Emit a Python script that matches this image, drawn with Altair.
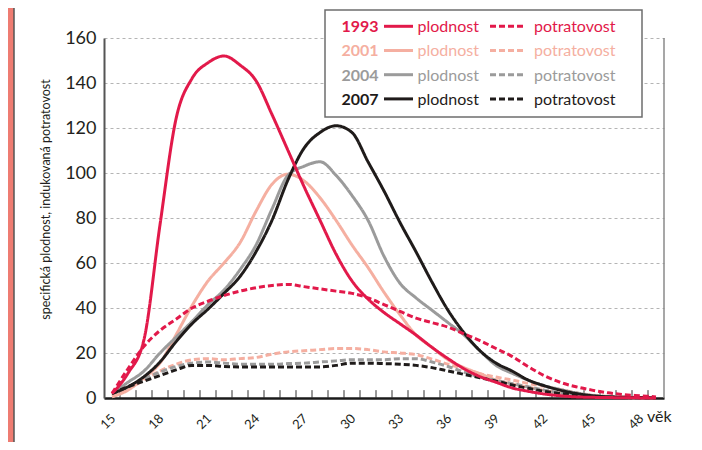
import altair as alt
import pandas as pd

# ---------------- data ----------------
ages = list(range(15, 50))
years = ["1993", "2001", "2004", "2007"]
colors = ["#E2194A", "#F5AFA1", "#9B9B9B", "#1F1B1A"]
kinds = ["plodnost", "potratovost"]
x_label_values = [15, 18, 21, 24, 27, 30, 33, 36, 39, 42, 45, 48]
y_tick_values = [0, 20, 40, 60, 80, 100, 120, 140, 160]

plodnost_1993 = [2, 11, 26, 77, 124, 142, 149, 152, 148, 141,
                 126, 110, 94, 79, 64, 52, 44, 38, 33, 28,
                 22.5, 17.5, 13, 9.5, 7, 4.5, 3, 1.8, 1, 0.5,
                 0.3, 0.2, 0.1, 0.05, 0.02]
potratovost_1993 = [2, 13, 23, 30, 35, 40, 43, 45.5, 47.5, 49,
                    50, 50.5, 49.5, 48.5, 47.5, 46.5, 44.5, 41.5, 38.5, 35.5,
                    33.5, 31.5, 28.5, 25.5, 22, 18.5, 14, 10, 7, 5,
                    3.5, 2.3, 1.5, 1, 0.5]
plodnost_2001 = [0.5, 3.5, 9, 15.5, 28, 41, 52, 60, 69, 83,
                 95, 99.5, 96.5, 89, 79, 68, 58, 47, 37, 28,
                 22.5, 17, 13.5, 10.8, 8, 6.3, 4.8, 3.4, 2.2, 1.3,
                 0.7, 0.4, 0.2, 0.1, 0.05]
potratovost_2001 = [1, 4, 8, 12, 15, 17, 17.5, 17, 17.5, 18,
                    19.5, 20.5, 21, 21.5, 22, 22, 21.5, 20.5, 20, 19.3,
                    17.3, 15, 13, 10.8, 9.3, 8, 6.5, 5.2, 3.8, 2.3,
                    1.3, 0.7, 0.4, 0.2, 0.1]
plodnost_2004 = [2, 7, 12, 20, 27, 34, 41.5, 48, 57, 68,
                 84, 99, 103, 105, 99, 90, 79, 63, 51, 44.5,
                 39, 33.5, 28, 21, 14.5, 11, 8, 5.5, 3.8, 2.3,
                 1.2, 0.6, 0.3, 0.1, 0.05]
potratovost_2004 = [2, 5, 8.5, 11.5, 14, 15.5, 16, 15.5, 15, 15,
                    15, 15.3, 15.5, 16, 16.5, 17, 17, 17, 17.5, 17.5,
                    16, 14, 11.5, 9.3, 7.8, 6.4, 5, 3.5, 2.3, 1.3,
                    0.7, 0.4, 0.2, 0.1, 0.05]
plodnost_2007 = [2, 5, 9.5, 16, 25, 33, 39.5, 46.5, 54, 65,
                 79, 97, 111, 118, 121, 118, 105, 92, 78, 65,
                 51.5, 39, 29, 21, 15.5, 12, 8, 5.5, 3.5, 2,
                 1, 0.5, 0.3, 0.2, 0.1]
potratovost_2007 = [2, 5, 7.5, 10, 12.5, 14.5, 14.5, 14, 13.8, 13.8,
                    13.8, 13.8, 13.8, 13.8, 14.5, 15.5, 15.5, 15.3, 15, 14.5,
                    13.5, 12, 10.5, 9, 7.5, 5.8, 4.3, 3, 2, 1.2,
                    0.7, 0.4, 0.2, 0.1, 0.05]

series = {
    ("1993", "plodnost"): plodnost_1993,
    ("1993", "potratovost"): potratovost_1993,
    ("2001", "plodnost"): plodnost_2001,
    ("2001", "potratovost"): potratovost_2001,
    ("2004", "plodnost"): plodnost_2004,
    ("2004", "potratovost"): potratovost_2004,
    ("2007", "plodnost"): plodnost_2007,
    ("2007", "potratovost"): potratovost_2007,
}
color_of = dict(zip(years, colors))

FONT = "Lato"
TXT = "#231F20"

xs = alt.Scale(domain=[14.5, 49.5], nice=False, zero=False)
ys = alt.Scale(domain=[0, 160], nice=False, zero=False)

x_axis = alt.Axis(values=x_label_values, title=None, grid=False, ticks=False, tickSize=0,
                  domainColor="#1a1a1a", domainWidth=2.5,
                  labelFont=FONT, labelFontSize=13, labelColor=TXT,
                  labelAngle=-45, labelAlign="right", labelBaseline="middle",
                  labelPadding=18, labelOffset=1)
y_axis = alt.Axis(values=y_tick_values, title="specifická plodnost, indukovaná potratovost",
                  grid=True, gridDash=[3, 3], gridColor="#b4b4b4", gridWidth=1,
                  ticks=False, tickSize=0, domainColor="#555555", domainWidth=2,
                  labelFont=FONT, labelFontSize=18, labelColor=TXT, labelPadding=8,
                  titleFont=FONT, titleFontSize=12.5, titleFontWeight="normal", titleColor=TXT,
                  titleAngle=-90, titleAlign="center", titleBaseline="middle",
                  titleX=-59, titleY=161)

X = alt.X("age:Q", scale=xs, axis=x_axis)
Y = alt.Y("value:Q", scale=ys, axis=y_axis)

one = alt.Data(values=[{"k": 0}])

layers = []

# left decorative bar
layers.append(alt.Chart(one).mark_rect(color="#EE7C72").encode(
    x=alt.value(-96), x2=alt.value(-90), y=alt.value(-30), y2=alt.value(405)))
layers.append(alt.Chart(one).mark_rule(color="#555555", strokeWidth=1.5).encode(
    x=alt.value(-90), y=alt.value(-30), y2=alt.value(405)))

# inward tick marks at category boundaries
tick_df = pd.DataFrame({"age": [a + 0.5 for a in ages[:-1]], "value": 0.0, "hi": 3.5})
layers.append(alt.Chart(tick_df).mark_rule(color="#333333", strokeWidth=1).encode(
    x=X, y=Y, y2="hi:Q"))

# right frame line
frame_df = pd.DataFrame({"age": [ages[-1] + 0.5], "value": [0], "hi": [160]})
layers.append(alt.Chart(frame_df).mark_rule(color="#8a8a8a", strokeWidth=1.5).encode(
    x=X, y=Y, y2="hi:Q"))

# data lines
order = ["2001", "2004", "2007", "1993"]
for yr in order:
    for kind in ["potratovost", "plodnost"]:
        df = pd.DataFrame({"age": ages, "value": series[(yr, kind)]})
        dash = [6, 3] if kind == "potratovost" else [1, 0]
        layers.append(alt.Chart(df).mark_line(
            color=color_of[yr], strokeWidth=3, strokeDash=dash,
            interpolate="monotone", strokeCap="butt").encode(x=X, y=Y))

# legend box
layers.append(alt.Chart(one).mark_rect(fill="white", stroke="#6d6d6d", strokeWidth=1.5).encode(
    x=alt.value(221), x2=alt.value(538), y=alt.value(-28), y2=alt.value(79)))

for i, (yr, col) in enumerate(zip(years, colors)):
    ly = -11.7 + 24.2 * i
    layers.append(alt.Chart(one).mark_text(
        text=yr, font=FONT, fontSize=16, fontWeight="bold", color=col,
        align="left", baseline="alphabetic").encode(x=alt.value(237.5), y=alt.value(ly + 5.8)))
    layers.append(alt.Chart(one).mark_rule(color=col, strokeWidth=3).encode(
        x=alt.value(280), x2=alt.value(309), y=alt.value(ly)))
    layers.append(alt.Chart(one).mark_text(
        text=kinds[0], font=FONT, fontSize=16, color=col,
        align="left", baseline="alphabetic").encode(x=alt.value(313.5), y=alt.value(ly + 5.8)))
    layers.append(alt.Chart(one).mark_rule(color=col, strokeWidth=3, strokeDash=[6, 3]).encode(
        x=alt.value(386), x2=alt.value(420), y=alt.value(ly)))
    layers.append(alt.Chart(one).mark_text(
        text=kinds[1], font=FONT, fontSize=16, color=col,
        align="left", baseline="alphabetic").encode(x=alt.value(430), y=alt.value(ly + 5.8)))

# axis unit label
layers.append(alt.Chart(one).mark_text(
    text="věk", font=FONT, fontSize=16, color=TXT, align="left", baseline="alphabetic").encode(
    x=alt.value(543), y=alt.value(384)))

chart = alt.layer(*layers).properties(
    width=560, height=360,
    padding={"left": 96, "top": 30, "right": 30, "bottom": 44},
    autosize=alt.AutoSizeParams(type="none"),
    background="white",
).configure_view(stroke=None)

chart.save("out.html", embed_options={"renderer": "svg", "actions": False})
